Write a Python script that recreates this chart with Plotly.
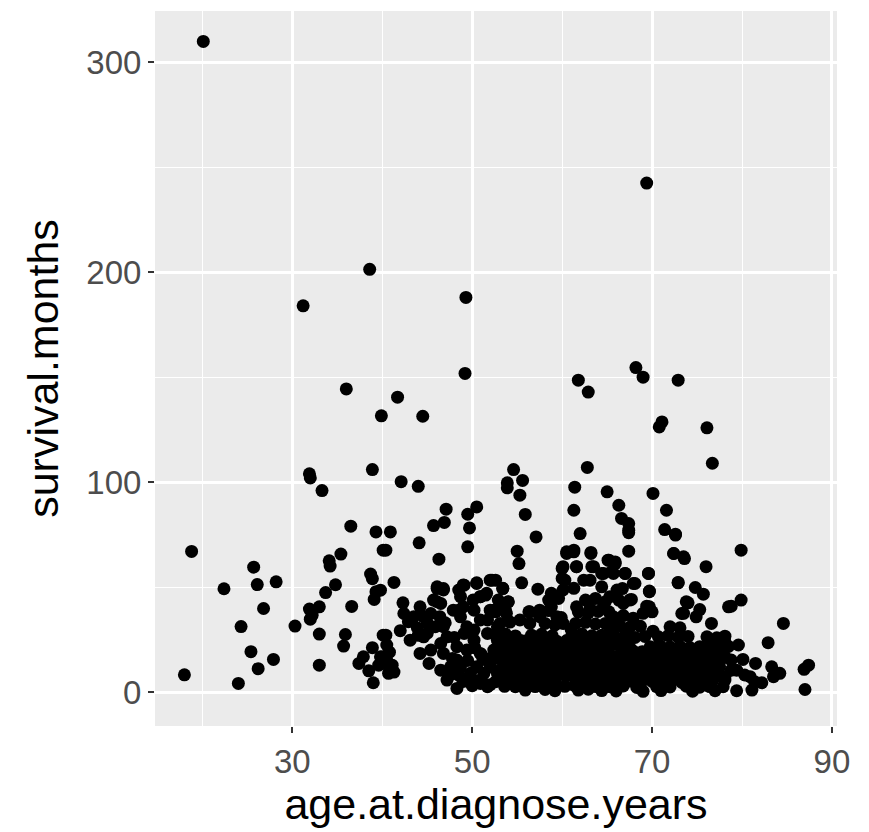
import plotly.graph_objects as go

# ---- sparse / readable points ----
sparse_age = [20.1, 69.4, 31.2, 38.6, 49.3, 49.2, 36.0, 39.9, 38.9, 31.9, 32.0, 33.3,
              41.7, 44.5, 42.1, 44.0, 54.6, 53.9, 53.9, 55.6, 55.3, 61.8, 62.9, 62.8,
              61.4, 65.0, 68.2, 69.0, 72.9, 71.1, 70.8, 76.1, 76.7, 70.1,
              18.8, 18.0, 22.4, 25.7, 26.1, 28.2, 26.8, 24.3, 25.4, 27.9, 26.2, 24.0,
              30.3, 33.0, 33.0, 36.5, 39.3, 35.4, 34.1, 34.2, 34.8, 33.7, 38.7, 38.9,
              39.3, 39.1, 40.1, 36.6, 31.9, 33.0, 32.2, 32.0, 35.9, 35.7, 38.9, 37.9,
              37.4, 38.5, 39.0, 39.6, 40.1, 40.1, 40.5, 40.9, 41.3, 40.8,
              40.9, 40.4, 44.1, 47.1, 46.9, 45.7, 49.5, 50.5, 49.7, 49.5, 46.3, 41.3,
              55.9, 57.1, 55.0, 55.2, 55.5, 57.3, 53.4, 52.6, 61.3, 62.0, 60.5, 61.3,
              61.6, 63.2, 65.2, 60.0, 60.3, 63.3, 64.4, 65.5,
              66.3, 66.6, 67.4, 67.4, 71.6, 71.4, 72.6, 67.4, 72.4, 73.6, 76.0, 69.6,
              72.9, 74.8, 75.7, 69.7, 65.9, 67.0, 68.1, 66.7, 67.7, 74.0, 75.3, 74.9,
              73.3, 69.4, 70.0, 76.6, 78.5, 65.3, 66.3,
              79.9, 79.9, 78.8, 84.6, 82.9, 78.1, 79.6, 81.5, 83.3, 84.2, 83.5, 87.4,
              86.9, 87.0, 79.4, 81.1, 81.4, 82.2, 80.9, 78.1, 78.8, 80.1, 78.8, 78.1,
              79.4, 80.3]
sparse_months = [310, 242.5, 184, 201.4, 188, 151.8, 144.4, 131.6, 106, 104, 102, 96,
                 140.5, 131.4, 100.2, 98, 106, 99.7, 97.3, 100.8, 93.8, 148.6, 142.9, 107,
                 97.6, 95.4, 154.6, 150, 148.6, 128.7, 126.3, 125.9, 109, 94.6,
                 67.0, 8.2, 49.2, 59.5, 51.2, 52.5, 39.8, 31.2, 19.2, 15.5, 11.1, 4.1,
                 31.4, 27.6, 12.8, 79.0, 76.3, 65.7, 62.5, 60.0, 51.1, 47.4, 56.2, 54.0,
                 47.8, 44.1, 67.6, 40.8, 39.5, 40.6, 36.6, 34.7, 27.4, 21.9, 21.1, 16.8,
                 13.6, 10.1, 4.4, 12.8, 16.8, 27.1, 15.0, 13.0, 9.5, 19.0,
                 76.3, 67.6, 71.1, 87.1, 80.8, 79.3, 84.7, 88.2, 78.2, 69.2, 63.3, 52.2,
                 84.6, 73.9, 67.1, 61.2, 52.0, 49.0, 49.3, 53.3, 86.6, 75.5, 66.8, 67.6,
                 59.7, 66.5, 62.8, 58.9, 53.3, 59.7, 56.5, 57.3,
                 89.0, 82.7, 80.3, 77.1, 86.6, 77.4, 75.2, 67.1, 66.0, 63.6, 59.7, 56.5,
                 52.0, 49.8, 46.6, 48.1, 61.2, 56.5, 51.7, 49.3, 44.1, 42.5, 39.3, 35.8,
                 37.4, 40.9, 38.2, 32.7, 40.6, 45.4, 43.8,
                 67.6, 43.8, 40.9, 32.7, 23.5, 23.9, 22.4, 13.6, 12.0, 8.9, 7.3, 12.8,
                 10.8, 1.2, 0.6, 0.9, 4.9, 4.4, 7.3, 16.8, 15.2, 15.5, 10.4, 5.7,
                 10.4, 8.1]

# ---- upper edge of the main cluster ----
edge_age = [50.5, 52.2, 53.4, 50.9, 51.6, 49.0, 48.5, 46.1, 46.8, 46.1, 54.0, 53.8,
            56.4, 57.5, 58.8, 58.8, 60.1, 60.0, 60.5, 61.3, 61.6, 63.2, 63.5, 63.1,
            65.1, 65.9, 67.4, 64.6, 65.7, 67.0, 67.9, 69.6, 69.7, 69.7, 72.6, 72.4,
            73.5, 72.9, 73.8, 73.5, 67.5, 66.1, 64.4, 62.4, 61.3, 60.1, 59.0, 61.6,
            63.1, 64.6, 66.8, 69.0, 50.1, 49.0, 47.9, 46.4, 45.3, 52.0, 53.1, 55.3,
            56.4, 57.5, 60.1, 59.4]
edge_months = [52.0, 53.3, 49.4, 45.4, 47.0, 51.0, 48.6, 50.1, 48.6, 43.0, 43.0, 37.5,
               38.2, 39.0, 40.6, 47.0, 59.7, 54.1, 66.0, 66.8, 59.7, 66.0, 59.7, 53.3,
               62.8, 62.0, 75.9, 56.5, 56.5, 56.5, 51.7, 56.5, 47.8, 40.6, 74.8, 66.0,
               64.4, 52.2, 43.0, 37.5, 43.8, 48.6, 50.1, 53.3, 49.4, 48.6, 46.2, 40.6,
               39.8, 42.2, 42.2, 37.5, 43.8, 40.6, 39.0, 35.9, 31.1, 39.0, 40.6, 34.3,
               32.7, 35.9, 32.7, 35.9]

# ---- dense cluster, ages 40-53 ----
cluster1_age = [39.8, 42.3, 42.4, 43.5, 44.2, 44.6, 45.4, 45.7, 46.1, 46.8, 46.5, 42.0,
                43.1, 40.4, 40.5, 39.8, 40.2, 41.1, 40.7, 44.6, 44.2, 45.2, 45.4, 45.9,
                46.8, 47.2, 48.3, 46.5, 46.8, 46.5, 47.2, 48.3, 47.6, 48.7, 49.1, 48.5,
                48.7, 49.1, 50.5, 52.0, 50.9, 51.5, 52.4, 49.4, 50.2, 50.9, 51.7, 52.4,
                49.8, 50.9, 51.7, 52.0, 52.8, 52.8, 50.2, 50.9, 49.4, 48.3, 50.5, 52.8,
                51.3, 48.7, 50.2, 51.7, 43.9, 45.0, 47.8, 49.9, 51.2, 42.9, 47.5, 44.0,
                49.0, 50.0, 51.0, 52.0, 48.5, 49.5, 51.0, 52.0, 50.3, 48.0, 47.0, 45.0]
cluster1_months = [48.5, 42.5, 37.4, 35.8, 40.6, 35.8, 37.4, 43.8, 49.3, 49.3, 42.2, 29.2,
                   24.7, 27.1, 22.4, 16.8, 13.6, 12.8, 8.9, 26.3, 18.4, 13.6, 20.0, 31.1,
                   31.1, 26.3, 21.6, 23.1, 18.4, 10.4, 5.7, 1.7, 12.0, 12.0, 27.9, 39.0,
                   45.4, 50.9, 51.7, 53.3, 45.4, 46.2, 39.0, 31.1, 24.7, 18.4, 27.9, 20.0,
                   8.9, 4.1, 2.5, 12.0, 8.9, 31.1, 39.0, 34.3, 20.0, 15.2, 12.0, 24.7,
                   8.9, 35.8, 29.5, 34.3, 30.5, 33.0, 16.0, 6.5, 15.5, 33.5, 8.0, 27.0,
                   5.0, 3.0, 6.0, 3.5, 8.0, 15.0, 18.0, 16.0, 21.0, 26.0, 33.0, 28.0]

# ---- dense cluster, ages 52-66 ----
cluster2_age = [52.9, 54.0, 58.5, 59.6, 62.6, 63.7, 64.8,
                52.6, 53.7, 56.3, 57.4, 58.5, 61.8, 62.9, 64.0, 65.2,
                53.1, 54.2, 58.1, 59.2, 61.5, 62.6, 63.7, 64.8, 65.7,
                52.6, 53.7, 54.8, 56.6, 57.7, 58.9, 61.1, 62.2, 63.3, 64.4, 65.5,
                53.1, 54.2, 55.3, 56.3, 57.4, 58.5, 59.6, 60.7, 61.8, 62.9, 64.0, 65.2,
                52.6, 53.7, 54.8, 55.9, 57.0, 58.1, 59.2, 60.3, 61.5, 62.6, 63.7, 64.8, 65.7,
                53.1, 54.2, 55.3, 56.4, 57.6, 58.7, 59.8, 60.9, 62.0, 63.1, 64.2, 65.3,
                52.6, 53.7, 54.8, 55.9, 57.0, 58.1, 59.2, 61.5, 62.6, 63.7, 64.8, 65.7,
                55.9, 58.1, 59.2, 61.8, 62.9, 64.4,
                55.4, 57.9, 60.4, 63.2, 61.0, 59.9, 56.9, 54.6, 63.9, 62.3]
cluster2_months = [43.8, 42.9, 43.8, 44.6, 43.8, 44.6, 43.0,
                   38.2, 38.9, 38.2, 37.5, 38.8, 38.2, 37.6, 38.4, 38.2,
                   32.7, 33.3, 32.7, 32.0, 32.7, 33.2, 32.4, 32.7, 33.0,
                   27.1, 27.6, 26.7, 27.1, 27.5, 26.8, 27.1, 27.6, 26.8, 27.1, 27.4,
                   21.6, 21.0, 21.9, 21.6, 22.2, 21.4, 21.6, 22.0, 21.3, 21.6, 22.1, 21.5,
                   16.0, 16.5, 15.6, 16.0, 16.4, 15.7, 16.0, 16.3, 15.8, 16.0, 16.4, 15.6, 16.1,
                   10.4, 10.9, 10.1, 10.4, 10.8, 10.0, 10.4, 10.9, 10.2, 10.5, 10.0, 10.6,
                   4.9, 5.3, 4.6, 4.9, 5.4, 4.5, 4.9, 5.2, 4.7, 5.0, 4.6, 5.1,
                   0.9, 1.2, 0.6, 0.9, 1.3, 0.7,
                   24.5, 18.8, 13.2, 7.6, 29.9, 35.5, 13.0, 8.0, 2.5, 19.0]

# ---- extra points filling the core, ages 53-65 ----
core_age = [53.6, 54.8, 55.9, 57.0, 58.1, 59.2, 60.3, 61.4, 62.5, 63.6, 64.7,
            53.7, 54.9, 56.0, 57.1, 58.2, 59.3, 60.4, 61.5, 62.6, 63.7, 64.8,
            53.5, 54.7, 55.8, 56.9, 58.0, 59.1, 60.2, 61.3, 62.4, 63.5, 64.6,
            53.6, 54.8, 55.9, 57.0, 58.1, 59.2, 60.3, 61.4, 62.5, 63.6, 64.7,
            53.8, 55.0, 56.1, 57.2, 58.3, 59.4, 60.5, 61.6, 62.7, 63.8, 64.9]
core_months = [2.7, 2.5, 2.9, 2.6, 2.8, 2.4, 2.7, 3.0, 2.6, 2.8, 2.5,
               7.6, 7.9, 7.4, 7.7, 7.5, 7.8, 7.6, 7.3, 7.7, 7.5, 7.9,
               13.2, 13.5, 13.0, 13.3, 13.6, 13.1, 13.4, 13.2, 13.0, 13.5, 13.3,
               18.8, 19.1, 18.6, 18.9, 19.2, 18.7, 19.0, 18.8, 19.1, 18.6, 18.9,
               24.4, 24.1, 24.6, 24.3, 24.7, 24.2, 24.5, 24.8, 24.3, 24.6, 24.2]

# ---- dense cluster, ages 65-79 ----
cluster3_age = [65.7, 66.8, 67.9,
                65.3, 66.4, 67.5, 68.7, 72.0, 73.1,
                65.9, 67.0, 68.1, 69.2, 70.7, 71.8, 72.9, 74.0, 76.1, 77.2, 78.1,
                65.3, 66.4, 67.5, 69.8, 70.9, 72.0, 73.1, 74.2, 75.3, 76.4, 77.5, 78.5,
                65.9, 67.0, 68.1, 69.2, 70.3, 71.4, 72.6, 73.7, 74.8, 75.9, 77.0, 78.1,
                65.3, 66.4, 67.5, 68.7, 69.8, 70.9, 72.0, 73.1, 74.2, 75.3, 76.4, 77.5,
                65.9, 67.0, 68.1, 69.2, 70.3, 71.4, 72.6, 73.7, 74.8, 75.9, 77.0, 78.1,
                65.3, 66.8, 68.3, 70.5, 72.0, 73.8, 75.3, 76.4, 77.9,
                66.0, 69.0, 71.0, 74.5, 77.0,
                68.9, 71.2, 73.5, 75.8, 67.2, 70.1, 72.3, 74.6, 76.9,
                66.5, 67.7, 68.8, 70.0, 71.1, 72.2, 73.3, 74.4, 75.6, 76.7,
                66.6, 67.8, 68.9, 70.1, 71.2, 72.3, 73.4, 74.5, 75.7, 76.8,
                66.4, 67.6, 68.7, 69.9, 71.0, 72.1, 73.2, 74.3, 75.5, 76.6,
                66.7, 67.9, 69.0, 70.2, 71.3, 72.4, 73.5, 74.6, 75.8, 76.9]
cluster3_months = [35.8, 36.4, 35.2,
                   31.1, 31.6, 30.8, 31.3, 31.1, 30.6,
                   26.3, 26.8, 26.0, 26.5, 26.3, 26.9, 26.1, 26.5, 26.3, 25.8, 26.6,
                   21.6, 22.0, 21.3, 21.6, 22.1, 21.4, 21.8, 21.2, 21.6, 22.0, 21.4, 21.7,
                   16.8, 17.2, 16.5, 16.8, 17.1, 16.4, 16.9, 17.2, 16.6, 16.8, 17.1, 16.5,
                   12.0, 12.4, 11.7, 12.0, 12.3, 11.8, 12.2, 11.7, 12.0, 12.4, 11.8, 12.1,
                   7.3, 7.7, 7.0, 7.3, 7.6, 7.1, 7.4, 7.0, 7.3, 7.7, 7.1, 7.4,
                   2.5, 2.9, 2.2, 2.6, 2.4, 2.8, 2.3, 2.6, 2.5,
                   0.5, 0.3, 0.7, 0.4, 0.6,
                   19.2, 14.4, 9.6, 4.8, 23.9, 29.0, 19.0, 14.0, 9.9,
                   4.9, 5.2, 4.7, 5.0, 4.8, 5.3, 4.6, 5.1, 4.9, 5.2,
                   9.6, 9.9, 9.4, 9.7, 9.5, 9.8, 9.3, 9.6, 9.9, 9.5,
                   14.4, 14.7, 14.2, 14.5, 14.3, 14.6, 14.1, 14.4, 14.7, 14.3,
                   19.2, 19.5, 19.0, 19.3, 19.1, 19.4, 18.9, 19.2, 19.5, 19.1]

ages = sparse_age + edge_age + cluster1_age + cluster2_age + core_age + cluster3_age
months = sparse_months + edge_months + cluster1_months + cluster2_months + core_months + cluster3_months

x_ticks = [30, 50, 70, 90]
y_ticks = [0, 100, 200, 300]
x_minor = [20, 40, 60, 80]
y_minor = [50, 150, 250]

fig = go.Figure(go.Scatter(
    x=ages, y=months, mode="markers",
    marker=dict(color="black", size=13, line=dict(width=0)),
    hoverinfo="skip"))

axis_common = dict(
    showgrid=True, gridcolor="white", gridwidth=2.6,
    zeroline=False, showline=False,
    ticks="outside", ticklen=6, tickwidth=2.2, tickcolor="#333333",
    tickfont=dict(family="Liberation Sans, Arial, sans-serif", size=33, color="#4D4D4D"),
    title_font=dict(family="Liberation Sans, Arial, sans-serif", size=43, color="black"),
)

fig.update_layout(
    width=869, height=832,
    margin=dict(l=155, r=32, t=11, b=106),
    paper_bgcolor="white", plot_bgcolor="#EBEBEB",
    showlegend=False,
    xaxis=dict(axis_common, range=[14.73, 90.56], tickmode="array", tickvals=x_ticks,
               ticktext=[str(v) for v in x_ticks],
               minor=dict(tickmode="array", tickvals=x_minor, showgrid=True,
                          gridcolor="white", gridwidth=1.3, ticks=""),
               title=dict(text="age.at.diagnose.years", standoff=10)),
    yaxis=dict(axis_common, range=[-16.2, 324.5], tickmode="array", tickvals=y_ticks,
               ticktext=[str(v) for v in y_ticks],
               minor=dict(tickmode="array", tickvals=y_minor, showgrid=True,
                          gridcolor="white", gridwidth=1.3, ticks=""),
               title=dict(text="survival.months", standoff=14)),
)

fig.write_html("out.html")
